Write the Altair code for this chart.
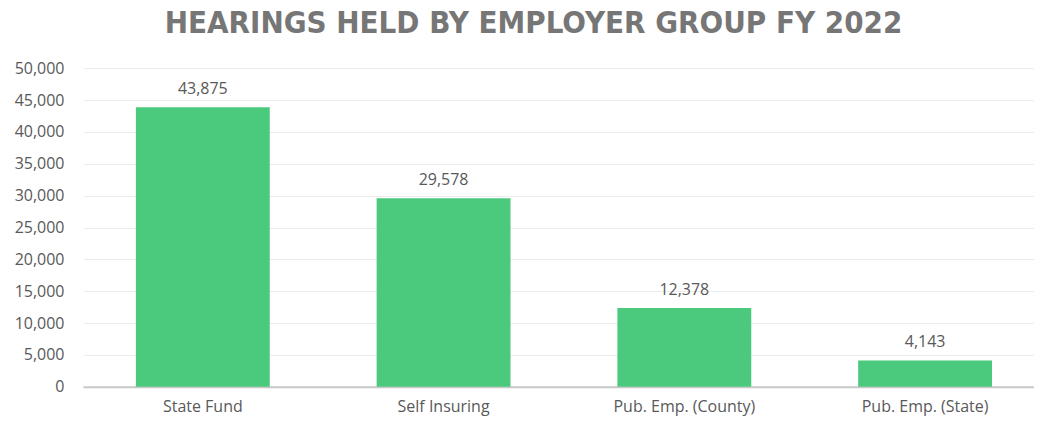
import altair as alt
import pandas as pd

categories = ["State Fund", "Self Insuring", "Pub. Emp. (County)", "Pub. Emp. (State)"]
hearings = [43875, 29578, 12378, 4143]
y_ticks = [0, 5000, 10000, 15000, 20000, 25000, 30000, 35000, 40000, 45000, 50000]

df = pd.DataFrame({"group": categories, "hearings": hearings})

base = alt.Chart(df).encode(
    x=alt.X("group:N", sort=categories, title=None,
            scale=alt.Scale(paddingInner=0.444, paddingOuter=0.22, range=[0, 963]),
            axis=alt.Axis(labelAngle=0, labelFont="Open Sans", labelFontSize=16,
                          labelColor="#595959", labelPadding=12, ticks=False,
                          domainColor="#c8c8c8", domainWidth=2, grid=False)),
    y=alt.Y("hearings:Q", title=None,
            scale=alt.Scale(domain=[0, 50000]),
            axis=alt.Axis(values=y_ticks, format=",.0f",
                          labelFont="Open Sans", labelFontSize=16, labelColor="#595959",
                          labelPadding=19, ticks=False, domain=False,
                          gridColor="#ebebeb", gridWidth=1)),
)

bars = base.mark_bar(color="#4BCA7D")
labels = base.mark_text(baseline="bottom", dy=-10, font="Open Sans", fontSize=16,
                        color="#595959").encode(text=alt.Text("hearings:Q", format=",.0f"))

chart = (bars + labels).properties(
    width=952, height=319,
    autosize=alt.AutoSizeParams(type="none"),
    padding={"left": 75, "top": 60, "right": 0, "bottom": 40},
    title=alt.TitleParams("HEARINGS HELD BY EMPLOYER GROUP FY 2022",
                          font="DejaVu Sans Condensed", fontWeight="bold",
                          fontSize=31, color="#767676", anchor="middle",
                          dx=-25, offset=20),
).configure_view(stroke=None)

chart.save("out.html", embed_options={"renderer": "svg", "actions": False})
